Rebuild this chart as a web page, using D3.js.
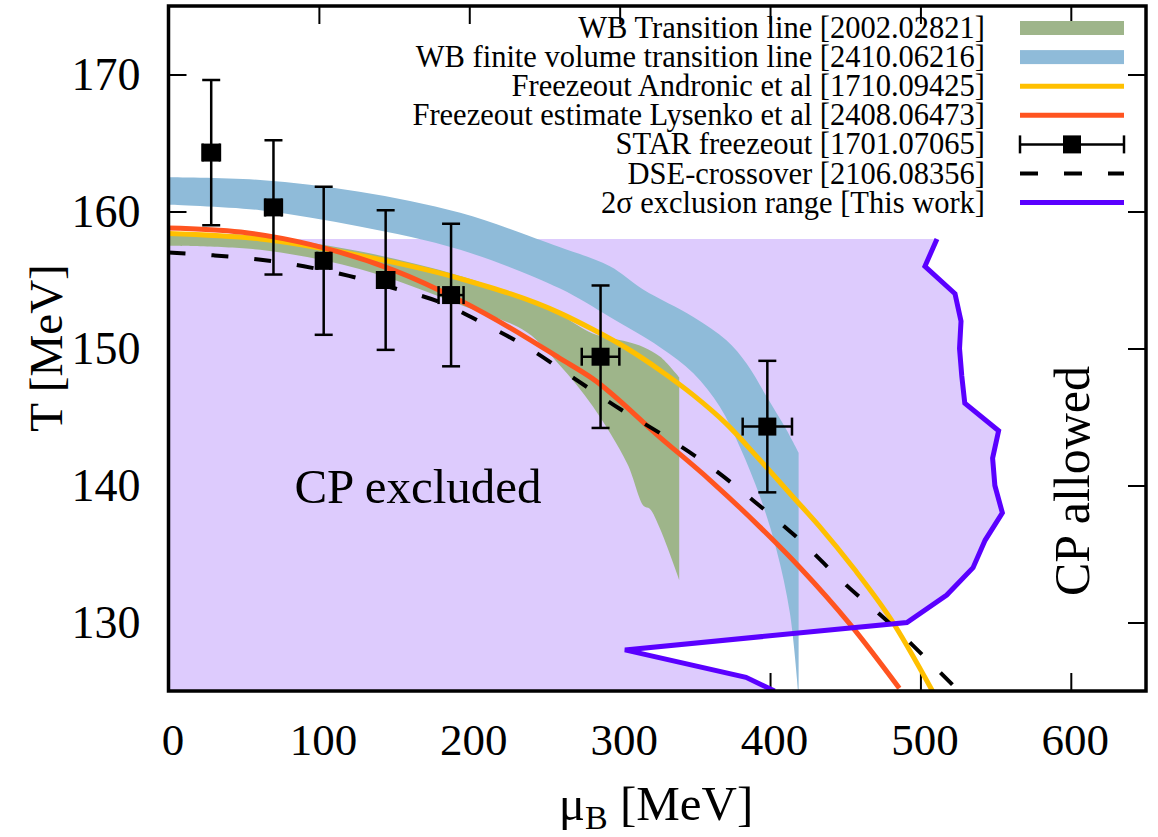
<!DOCTYPE html>
<html>
<head>
<meta charset="utf-8">
<script src="https://cdn.jsdelivr.net/npm/d3@7"></script>
<style>
  body { margin: 0; background: #fff; }
  svg { display: block; }
  text { font-family: "Liberation Serif", "Times New Roman", serif; fill: #000; }
</style>
</head>
<body>
<svg id="chart" width="1158" height="837"></svg>
<script>
// ---------------- data ----------------
// STAR chemical freeze-out points (mu_B, T) with errors, MeV
const starMu    = [28.4, 69.8, 103.2, 144.4, 187.9, 287.3, 398.2];
const starMuErr = [5.8, 5.6, 4.3, 5.7, 8.3, 12.5, 16.4];
const starT     = [164.3, 160.3, 156.4, 155.0, 153.9, 149.4, 144.3];
const starTErr  = [5.3, 4.9, 5.4, 5.1, 5.2, 5.2, 4.8];

// WB transition line band
const wbUpperMu = [0, 61, 127, 194, 238, 260, 282, 305, 316, 327, 339.6];
const wbUpperT  = [158.5, 158.2, 157.1, 155.3, 153.6, 152.5, 151.1, 150.5, 150.1, 149.4, 147.9];
const wbLowerMu = [0, 61, 127, 194, 238, 260, 282, 305, 316, 320, 327, 339.6];
const wbLowerT  = [157.5, 157.2, 155.8, 153.2, 151.2, 148.8, 145.8, 141.6, 138.5, 138.3, 136.8, 133.1];

// WB finite volume transition line band
const fvUpperMu = [0, 61, 127, 194, 260, 293.5, 315.6, 349, 371, 384.4, 397.7, 411, 419];
const fvUpperT  = [162.5, 162.3, 161.45, 159.9, 157.4, 156.0, 154.3, 152.3, 150.6, 148.9, 146.5, 144.05, 142.4];
const fvLowerMu = [0, 61, 127, 194, 260, 293.5, 326.8, 349, 366.6, 380, 393.3, 404.3, 413.2, 419];
const fvLowerT  = [160.5, 160.1, 158.9, 157.2, 154.4, 152.3, 150.1, 148.2, 145.75, 142.8, 139.2, 135.3, 130.7, 124.5];

// Freezeout, Andronic et al
const andronicMu = [0, 61, 127, 194, 260, 282, 305, 327, 349, 371, 393, 415, 433, 456, 480, 508];
const andronicT  = [158.4, 158.0, 156.8, 155.1, 152.6, 151.4, 150.0, 148.4, 146.6, 144.5, 141.9, 139.2, 137.0, 133.9, 130.3, 125.0];

// Freezeout estimate, Lysenko et al
const lysenkoMu = [0, 48, 94, 150, 194, 238, 260, 282, 327, 360, 393, 420, 453, 486];
const lysenkoT  = [158.8, 158.5, 157.6, 155.7, 153.5, 150.8, 149.3, 147.8, 143.5, 140.4, 137.0, 134.0, 129.9, 125.2];

// DSE crossover
const dseMu = [0, 30, 60, 90, 120, 150, 180, 210, 240, 270, 300, 330, 360, 390, 420, 450, 480, 510, 530];
const dseT  = [157.0, 156.8, 156.5, 156.0, 155.3, 154.4, 153.4, 151.8, 150.0, 147.8, 145.6, 143.6, 141.4, 138.8, 136.0, 132.8, 129.9, 126.7, 124.5];

// 2 sigma exclusion boundary (this work)
const exclT  = [158, 156, 154, 152, 150, 148, 146, 144, 142, 140, 138, 136, 134, 132, 130, 128, 126, 125];
const exclMu = [511, 503, 523, 527, 526, 527.5, 529.5, 552, 548, 549.5, 554.5, 543, 535, 517.5, 491, 303.5, 384, 403];
const exclTop = 158;

// axis ticks
const xTicks = [0, 100, 200, 300, 400, 500, 600];
const yTicks = [130, 140, 150, 160, 170];

const legendLabels = [
  "WB Transition line [2002.02821]",
  "WB finite volume transition line [2410.06216]",
  "Freezeout Andronic et al [1710.09425]",
  "Freezeout estimate Lysenko et al [2408.06473]",
  "STAR freezeout [1701.07065]",
  "DSE-crossover [2106.08356]",
  "2\u03C3 exclusion range [This work]"
];

// ---------------- style ----------------
const C = {
  green: "#9eb58a",
  blue: "#8fbbd9",
  yellow: "#ffc000",
  orange: "#ff5420",
  purpleFill: "#ddcbfd",
  purpleLine: "#5a00ff"
};

const svg = d3.select("#chart");
const x = d3.scaleLinear().domain([0, 650]).range([168.5, 1146]);
const y = d3.scaleLinear().domain([125, 175]).range([691, 6]);
const zip = (a, b) => a.map((v, i) => [v, b[i]]);

svg.append("defs").append("clipPath").attr("id", "plotClip")
  .append("rect").attr("x", x(0)).attr("y", y(175))
  .attr("width", x(650) - x(0)).attr("height", y(125) - y(175));

// ---------------- axes (ticks drawn inward, on all four sides) ----------------
const tickLen = 18;
function styleAxis(g) {
  g.select(".domain").remove();
  g.selectAll(".tick line").attr("stroke", "#000").attr("stroke-width", 2);
}
svg.append("g").attr("transform", `translate(0,${y(125)})`)
  .call(d3.axisBottom(x).tickValues(xTicks).tickSize(-tickLen).tickFormat(d3.format("d")))
  .call(styleAxis)
  .call(g => g.selectAll("text").attr("y", 64).attr("dy", 0).attr("dx", 4)
    .attr("font-size", 45).attr("font-family", "Liberation Serif").attr("fill", "#000"));
svg.append("g").attr("transform", `translate(0,${y(175)})`)
  .call(d3.axisTop(x).tickValues(xTicks).tickSize(-tickLen).tickFormat(""))
  .call(styleAxis);
svg.append("g").attr("transform", `translate(${x(0)},0)`)
  .call(d3.axisLeft(y).tickValues(yTicks).tickSize(-tickLen).tickFormat(d3.format("d")))
  .call(styleAxis)
  .call(g => g.selectAll("text").attr("x", -28).attr("dy", "0.33em")
    .attr("font-size", 46).attr("font-family", "Liberation Serif").attr("fill", "#000"));
svg.append("g").attr("transform", `translate(${x(650)},0)`)
  .call(d3.axisRight(y).tickValues(yTicks).tickSize(-tickLen).tickFormat(""))
  .call(styleAxis);

// ---------------- plot contents ----------------
const plot = svg.append("g").attr("clip-path", "url(#plotClip)");

// excluded region: below the top edge and left of the 2 sigma boundary
const exclPts = [[0, exclTop]].concat(zip(exclMu, exclT)).concat([[0, 125]]);
const linePoly = d3.line().x(d => x(d[0])).y(d => y(d[1]));
plot.append("path").attr("d", linePoly(exclPts) + "Z").attr("fill", C.purpleFill);

// bands built from an upper and a lower edge
function bandPath(upper, lower) {
  const gen = d3.line().x(d => x(d[0])).y(d => y(d[1])).curve(d3.curveCatmullRom);
  const up = gen(upper);
  const lo = gen(lower.slice().reverse());
  return up + "L" + lo.slice(1) + "Z";
}
plot.append("path").attr("d", bandPath(zip(wbUpperMu, wbUpperT), zip(wbLowerMu, wbLowerT)))
  .attr("fill", C.green);
plot.append("path").attr("d", bandPath(zip(fvUpperMu, fvUpperT), zip(fvLowerMu, fvLowerT)))
  .attr("fill", C.blue);

const smooth = d3.line().x(d => x(d[0])).y(d => y(d[1])).curve(d3.curveMonotoneX);
plot.append("path").attr("d", smooth(zip(andronicMu, andronicT)))
  .attr("fill", "none").attr("stroke", C.yellow).attr("stroke-width", 5);
plot.append("path").attr("d", smooth(zip(lysenkoMu, lysenkoT)))
  .attr("fill", "none").attr("stroke", C.orange).attr("stroke-width", 5);

// STAR freeze-out points with error bars
const star = starMu.map((m, i) => ({ mu: m, dmu: starMuErr[i], T: starT[i], dT: starTErr[i] }));
const cap = 9, sq = 18;
const sg = plot.append("g").attr("stroke", "#000").attr("stroke-width", 2.5);
star.forEach(d => {
  const cx = x(d.mu), cy = y(d.T);
  const y0 = y(d.T - d.dT), y1 = y(d.T + d.dT);
  const x0 = x(d.mu - d.dmu), x1 = x(d.mu + d.dmu);
  sg.append("line").attr("x1", cx).attr("x2", cx).attr("y1", y0).attr("y2", y1);
  sg.append("line").attr("x1", cx - cap).attr("x2", cx + cap).attr("y1", y0).attr("y2", y0);
  sg.append("line").attr("x1", cx - cap).attr("x2", cx + cap).attr("y1", y1).attr("y2", y1);
  sg.append("line").attr("x1", x0).attr("x2", x1).attr("y1", cy).attr("y2", cy);
  sg.append("line").attr("x1", x0).attr("x2", x0).attr("y1", cy - cap).attr("y2", cy + cap);
  sg.append("line").attr("x1", x1).attr("x2", x1).attr("y1", cy - cap).attr("y2", cy + cap);
  sg.append("rect").attr("x", cx - sq / 2).attr("y", cy - sq / 2)
    .attr("width", sq).attr("height", sq).attr("fill", "#000").attr("stroke", "none");
});

plot.append("path").attr("d", smooth(zip(dseMu, dseT)))
  .attr("fill", "none").attr("stroke", "#000").attr("stroke-width", 4)
  .attr("stroke-dasharray", "17,26");

plot.append("path").attr("d", linePoly(zip(exclMu, exclT)))
  .attr("fill", "none").attr("stroke", C.purpleLine).attr("stroke-width", 5)
  .attr("stroke-linejoin", "miter");

// ---------------- annotations ----------------
svg.append("text").attr("x", 418).attr("y", 503).attr("text-anchor", "middle")
  .attr("font-size", 49).text("CP excluded");
svg.append("text").attr("transform", "translate(1089,481) rotate(-90)")
  .attr("text-anchor", "middle").attr("font-size", 50).text("CP allowed");

// ---------------- legend ----------------
const lgX0 = 1020, lgX1 = 1124, lgTextX = 985;
const rowY = i => 28 + 29.1 * i;
const lg = svg.append("g");
legendLabels.forEach((t, i) => {
  lg.append("text").attr("x", lgTextX).attr("y", rowY(i) + 10)
    .attr("text-anchor", "end").attr("font-size", 30.5).text(t);
});
lg.append("rect").attr("x", lgX0).attr("y", rowY(0) - 7).attr("width", lgX1 - lgX0).attr("height", 14).attr("fill", C.green);
lg.append("rect").attr("x", lgX0).attr("y", rowY(1) - 7).attr("width", lgX1 - lgX0).attr("height", 14).attr("fill", C.blue);
lg.append("line").attr("x1", lgX0).attr("x2", lgX1).attr("y1", rowY(2)).attr("y2", rowY(2))
  .attr("stroke", C.yellow).attr("stroke-width", 5);
lg.append("line").attr("x1", lgX0).attr("x2", lgX1).attr("y1", rowY(3)).attr("y2", rowY(3))
  .attr("stroke", C.orange).attr("stroke-width", 5);
{
  const g = lg.append("g").attr("stroke", "#000").attr("stroke-width", 2.5);
  const ry = rowY(4), mid = (lgX0 + lgX1) / 2;
  g.append("line").attr("x1", lgX0).attr("x2", lgX1).attr("y1", ry).attr("y2", ry);
  g.append("line").attr("x1", lgX0).attr("x2", lgX0).attr("y1", ry - cap).attr("y2", ry + cap);
  g.append("line").attr("x1", lgX1).attr("x2", lgX1).attr("y1", ry - cap).attr("y2", ry + cap);
  g.append("rect").attr("x", mid - sq / 2).attr("y", ry - sq / 2).attr("width", sq).attr("height", sq)
    .attr("fill", "#000").attr("stroke", "none");
}
lg.append("line").attr("x1", lgX0).attr("x2", lgX1).attr("y1", rowY(5)).attr("y2", rowY(5))
  .attr("stroke", "#000").attr("stroke-width", 4).attr("stroke-dasharray", "18,26");
lg.append("line").attr("x1", lgX0).attr("x2", lgX1).attr("y1", rowY(6)).attr("y2", rowY(6))
  .attr("stroke", C.purpleLine).attr("stroke-width", 5);

// ---------------- axis titles ----------------
const xt = svg.append("text").attr("x", 656).attr("y", 820).attr("text-anchor", "middle").attr("font-size", 49);
xt.append("tspan").text("\u03BC");
xt.append("tspan").attr("font-size", 34).attr("dy", 9).text("B");
xt.append("tspan").attr("dy", -9).text(" [MeV]");
svg.append("text").attr("transform", "translate(62,348) rotate(-90)")
  .attr("text-anchor", "middle").attr("font-size", 47).text("T [MeV]");

// ---------------- frame ----------------
svg.append("rect").attr("x", x(0)).attr("y", y(175))
  .attr("width", x(650) - x(0)).attr("height", y(125) - y(175))
  .attr("fill", "none").attr("stroke", "#000").attr("stroke-width", 3.5);
</script>
</body>
</html>
